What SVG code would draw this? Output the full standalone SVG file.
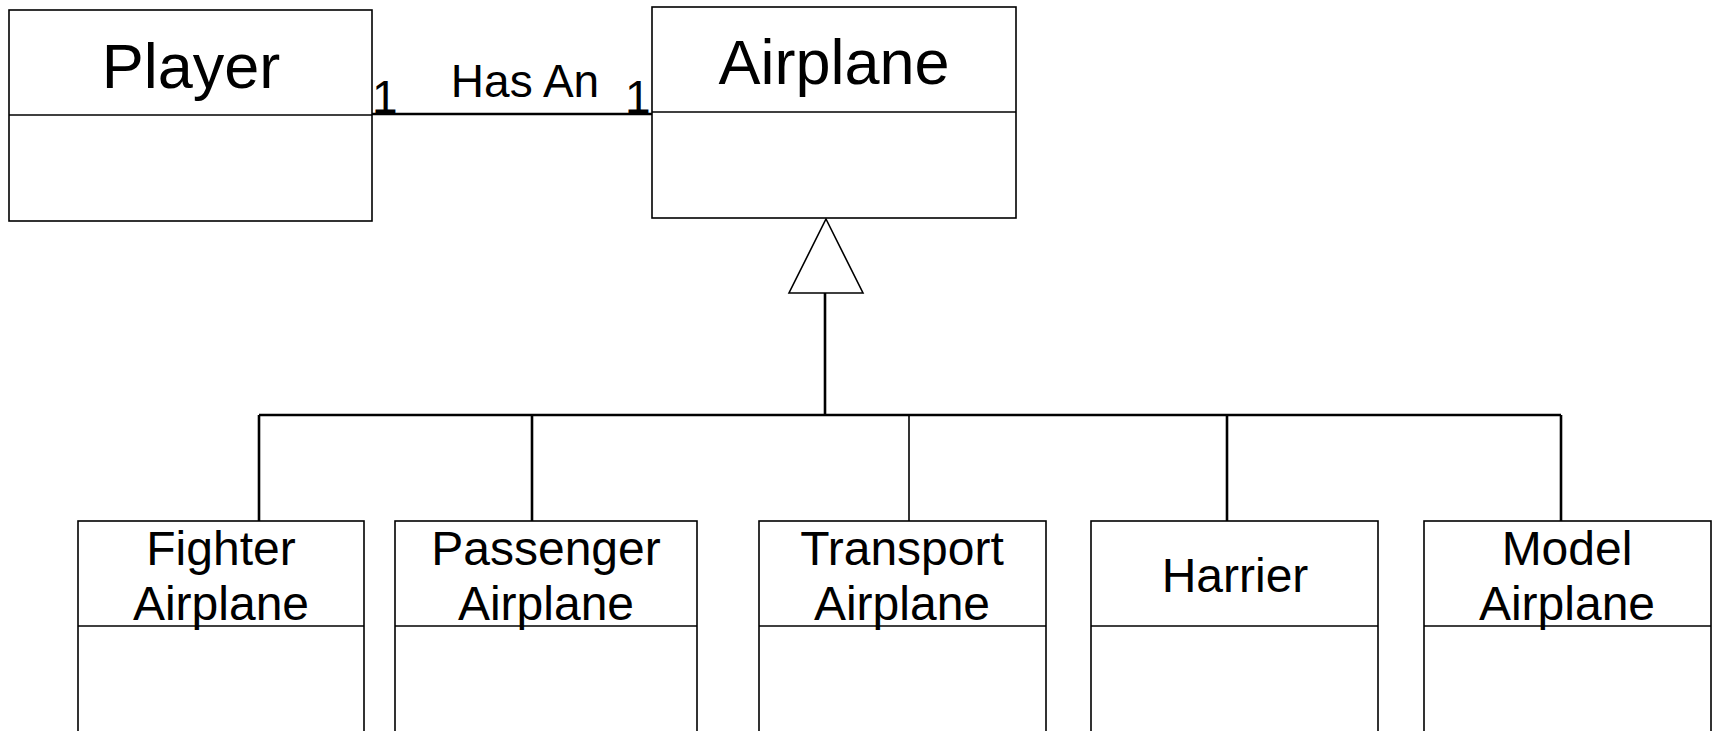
<svg xmlns="http://www.w3.org/2000/svg" width="1716" height="731" viewBox="0 0 1716 731">
  <style>
    .box { fill: #ffffff; stroke: #000000; stroke-width: 1.6; }
    .div { stroke: #000000; stroke-width: 1.6; }
    .title { font-family: "Liberation Sans", Arial, sans-serif; font-size: 63px; fill: #000000; text-anchor: middle; }
    .name { font-family: "Liberation Sans", Arial, sans-serif; font-size: 48px; fill: #000000; text-anchor: middle; }
    .lbl { font-family: "Liberation Sans", Arial, sans-serif; font-size: 46px; fill: #000000; }
    .wire { fill: none; stroke: #000000; stroke-width: 2.6; }
    .thin { fill: none; stroke: #000000; stroke-width: 1.6; }
  </style>
  <rect width="1716" height="731" fill="#ffffff"/>

  <!-- connectors -->
  <g id="connectors">
    <!-- association Player — Airplane -->
    <line class="wire" x1="372" y1="114" x2="652" y2="114"/>
    <text class="lbl" x="372" y="113">1</text>
    <text class="lbl" x="525" y="97" text-anchor="middle">Has An</text>
    <text class="lbl" x="625" y="113">1</text>
    <!-- generalisation tree -->
    <line class="wire" x1="825" y1="293" x2="825" y2="415"/>
    <line class="wire" x1="259" y1="415" x2="1561" y2="415"/>
    <line class="wire" x1="259" y1="415" x2="259" y2="521"/>
    <line class="wire" x1="532" y1="415" x2="532" y2="521"/>
    <line class="thin" x1="909" y1="415" x2="909" y2="521"/>
    <line class="wire" x1="1227" y1="415" x2="1227" y2="521"/>
    <line class="wire" x1="1561" y1="415" x2="1561" y2="521"/>
    <polygon points="826,219 863,293 789,293" fill="#ffffff" stroke="#000000" stroke-width="1.6"/>
  </g>

  <g id="player">
    <rect class="box" x="9" y="10" width="363" height="211"/>
    <line class="div" x1="9" y1="115" x2="372" y2="115"/>
    <text class="title" x="191" y="88">Player</text>
  </g>

  <g id="airplane">
    <rect class="box" x="652" y="7" width="364" height="211"/>
    <line class="div" x1="652" y1="112" x2="1016" y2="112"/>
    <text class="title" x="834" y="84">Airplane</text>
  </g>

  <g id="fighter">
    <rect class="box" x="78" y="521" width="286" height="230"/>
    <line class="div" x1="78" y1="626" x2="364" y2="626"/>
    <text class="name" x="221" y="565">Fighter</text>
    <text class="name" x="221" y="620">Airplane</text>
  </g>

  <g id="passenger">
    <rect class="box" x="395" y="521" width="302" height="230"/>
    <line class="div" x1="395" y1="626" x2="697" y2="626"/>
    <text class="name" x="546" y="565">Passenger</text>
    <text class="name" x="546" y="620">Airplane</text>
  </g>

  <g id="transport">
    <rect class="box" x="759" y="521" width="287" height="230"/>
    <line class="div" x1="759" y1="626" x2="1046" y2="626"/>
    <text class="name" x="902" y="565">Transport</text>
    <text class="name" x="902" y="620">Airplane</text>
  </g>

  <g id="harrier">
    <rect class="box" x="1091" y="521" width="287" height="230"/>
    <line class="div" x1="1091" y1="626" x2="1378" y2="626"/>
    <text class="name" x="1235" y="592">Harrier</text>
  </g>

  <g id="model">
    <rect class="box" x="1424" y="521" width="287" height="230"/>
    <line class="div" x1="1424" y1="626" x2="1711" y2="626"/>
    <text class="name" x="1567" y="565">Model</text>
    <text class="name" x="1567" y="620">Airplane</text>
  </g>
</svg>
